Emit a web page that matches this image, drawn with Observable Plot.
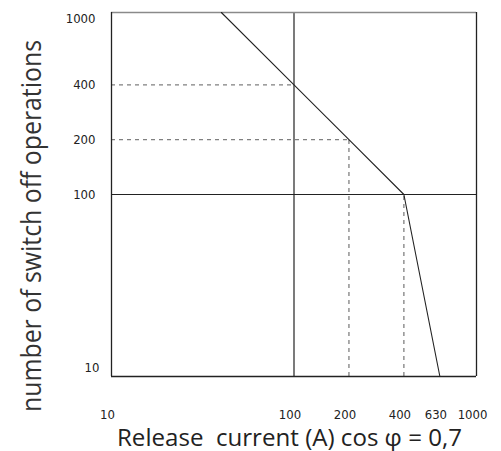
<!DOCTYPE html>
<html>
<head>
<meta charset="utf-8">
<script src="https://cdn.jsdelivr.net/npm/d3@7"></script>
<script src="https://cdn.jsdelivr.net/npm/@observablehq/plot@0.6"></script>
<style>
  html, body { margin: 0; padding: 0; background: #fff; }
  svg { display: block; }
</style>
</head>
<body>
<div id="chart"></div>
<script>
// Curve: release current (A) vs number of switch-off operations
const currentA   = [40, 100, 200, 400, 630];
const operations = [1000, 400, 200, 100, 10];

// Tick labels
const xTicks = [10, 100, 200, 400, 630, 1000];
const yTicks = [10, 100, 200, 400, 1000];

// Guide lines (dashed)
const guideHx = [100, 200];   // horizontal dashed from left edge to these currents
const guideHy = [400, 200];
const guideVx = [200, 400];   // vertical dashed from bottom up to these operations
const guideVy = [200, 100];

const xTitle = "Release  current (A) cos φ = 0,7";
const yTitle = "number of switch off operations";

const curve = currentA.map((x, i) => ({x, y: operations[i]}));
const hGuides = guideHx.map((x, i) => ({x, y: guideHy[i]}));
const vGuides = guideVx.map((x, i) => ({x, y: guideVy[i]}));

const tickFont = "'Liberation Sans Narrow', 'DejaVu Sans Condensed', sans-serif";
const dark = "#222";

const chart = Plot.plot({
  width: 501,
  height: 451,
  marginLeft: 111,
  marginRight: 25,
  marginTop: 12,
  marginBottom: 75,
  x: {type: "log", domain: [10, 1000], axis: null},
  y: {type: "log", domain: [10, 1000]},
  style: {background: "#fff"},
  marks: [
    // dashed guides
    Plot.ruleY(hGuides, {y: "y", x1: 10, x2: "x", stroke: "#808080", strokeWidth: 1.3, strokeDasharray: "4,4"}),
    Plot.ruleX(vGuides, {x: "x", y1: 10, y2: "y", stroke: "#808080", strokeWidth: 1.3, strokeDasharray: "4,4"}),
    // solid reference lines at 100
    Plot.ruleX([100], {stroke: dark, strokeWidth: 1.2}),
    Plot.ruleY([100], {stroke: dark, strokeWidth: 1.2}),
    // frame
    Plot.ruleY([1000], {stroke: "#8a8a8a", strokeWidth: 1.6}),
    Plot.ruleX([10, 1000], {stroke: dark, strokeWidth: 1.3}),
    Plot.ruleY([10], {stroke: dark, strokeWidth: 1.3}),
    // curve
    Plot.line(curve, {x: "x", y: "y", stroke: dark, strokeWidth: 1.1, strokeLinejoin: "round"}),
    // x tick labels
    Plot.text(xTicks, {x: d => d, frameAnchor: "bottom", dy: 42, dx: -4, text: d => `${d}`,
      fontSize: 13, fontFamily: tickFont, fill: "#222"}),
    // y tick labels
    Plot.axisY({ticks: yTicks.filter(d => d !== 10 && d !== 1000), tickSize: 0, tickPadding: 16,
      tickFormat: d => `${d}`, fontSize: 13, fontFamily: tickFont, label: null, fill: "#222"}),
    Plot.axisY({ticks: yTicks.filter(d => d === 1000), tickSize: 0, tickPadding: 16, dy: 6,
      tickFormat: d => `${d}`, fontSize: 13, fontFamily: tickFont, label: null, fill: "#222"}),
    Plot.axisY({ticks: yTicks.filter(d => d === 10), tickSize: 0, tickPadding: 12, dy: -9,
      tickFormat: d => `${d}`, fontSize: 13, fontFamily: tickFont, label: null, fill: "#222"})
  ]
});

const svg = d3.select(chart);
svg.append("text")
  .attr("x", 289.5).attr("y", 446)
  .attr("text-anchor", "middle")
  .attr("font-family", "'Open Sans', sans-serif")
  .attr("font-size", 24)
  .attr("fill", "#222")
  .attr("textLength", 345)
  .attr("lengthAdjust", "spacingAndGlyphs")
  .text(xTitle);

svg.append("text")
  .attr("transform", "translate(41,226) rotate(-90)")
  .attr("text-anchor", "middle")
  .attr("font-family", "'Open Sans', sans-serif")
  .attr("font-size", 27)
  .attr("fill", "#333")
  .attr("textLength", 372)
  .attr("lengthAdjust", "spacingAndGlyphs")
  .text(yTitle);

document.getElementById("chart").appendChild(chart);
</script>
</body>
</html>
